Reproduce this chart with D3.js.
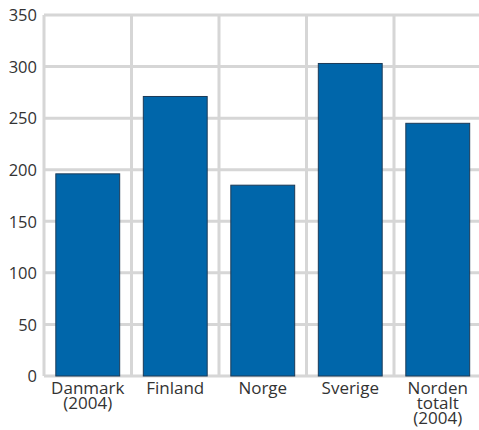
<!DOCTYPE html>
<html>
<head>
<meta charset="utf-8">
<script src="https://cdn.jsdelivr.net/npm/d3@7"></script>
<style>
  html, body { margin: 0; padding: 0; background: #fff; }
  svg { display: block; }
  .tick text { font-family: "Open Sans", sans-serif; font-size: 16.5px; fill: #333; }
  .xlab .tick text { font-size: 17px; }
</style>
</head>
<body>
<svg id="chart" width="479" height="430"></svg>
<script>
// Categories (label lines) and values
const categories = ["Danmark", "Finland", "Norge", "Sverige", "Norden"];
const categoryLabels = [["Danmark", "(2004)"], ["Finland"], ["Norge"], ["Sverige"], ["Norden", "totalt", "(2004)"]];
const values = [196, 271, 185, 303, 245];
const yTicks = [0, 50, 100, 150, 200, 250, 300, 350];

const svg = d3.select("#chart");
const margin = { top: 15, left: 44, bottom: 54 };
const plotW = 437.5;
const plotH = 430 - margin.top - margin.bottom;

const x = d3.scaleBand().domain(categories).range([margin.left, margin.left + plotW]).paddingInner(0.27).paddingOuter(0.135);
const xGrid = d3.scaleBand().domain(categories).range([margin.left, margin.left + plotW]);
const y = d3.scaleLinear().domain([0, 350]).range([margin.top + plotH, margin.top]);

const grid = svg.append("g").attr("stroke", "#d6d6d6").attr("stroke-width", 3);
// horizontal grid lines
grid.selectAll("line.h").data(yTicks).join("line")
  .attr("x1", margin.left).attr("x2", margin.left + plotW)
  .attr("y1", d => y(d)).attr("y2", d => y(d));
// vertical grid lines at band edges
const edges = categories.map(c => xGrid(c)).concat([margin.left + plotW]);
grid.selectAll("line.v").data(edges).join("line")
  .attr("x1", d => d).attr("x2", d => d)
  .attr("y1", y(350)).attr("y2", y(0));

// bars
svg.append("g").selectAll("rect").data(values).join("rect")
  .attr("x", (d, i) => x(categories[i]))
  .attr("width", x.bandwidth())
  .attr("y", d => y(d))
  .attr("height", d => y(0) - y(d))
  .attr("fill", "#0066aa")
  .attr("stroke", "#1c3a57")
  .attr("stroke-width", 1);

// y axis labels
const yAxis = svg.append("g").attr("transform", `translate(${margin.left},0)`)
  .call(d3.axisLeft(y).tickValues(yTicks).tickSize(0).tickPadding(7));
yAxis.select(".domain").remove();
yAxis.selectAll(".tick text").attr("dy", "0.35em");

// x axis labels (multi-line)
const xAxis = svg.append("g").attr("class", "xlab").attr("transform", `translate(0,${y(0)})`)
  .call(d3.axisBottom(x).tickSize(0).tickPadding(0).tickFormat(""));
xAxis.select(".domain").remove();
xAxis.selectAll(".tick").each(function(d, i) {
  const t = d3.select(this).select("text").text(null)
    .attr("y", 0).attr("dy", null);
  categoryLabels[i].forEach((line, k) => {
    t.append("tspan").attr("x", 0).attr("y", 18 + k * 15).text(line);
  });
});
</script>
</body>
</html>
